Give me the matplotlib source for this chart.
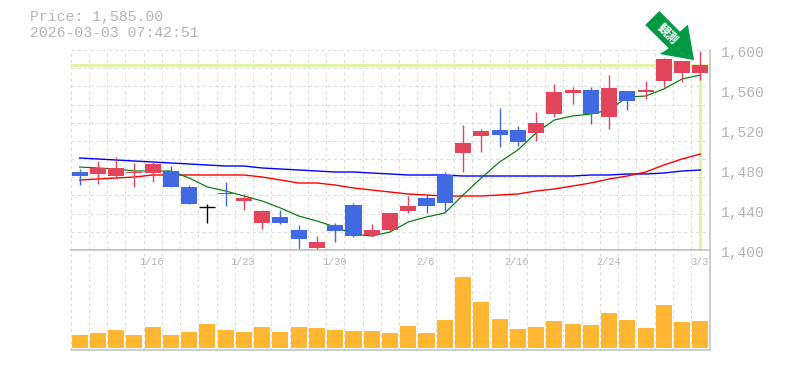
import numpy as np
import matplotlib
matplotlib.use('Agg')
import matplotlib.pyplot as plt
from matplotlib.patches import Polygon

# daily prices
opens = [1478, 1476, 1474, 1477, 1477, 1479, 1463, 1443, 1457, 1449, 1427, 1433, 1420, 1402, 1425, 1445, 1415, 1420,
         1439, 1452, 1475, 1497, 1514, 1520, 1520, 1517, 1536, 1557, 1560, 1533, 1559, 1558, 1569, 1577, 1577]
closes = [1474, 1482, 1482, 1478, 1486, 1463, 1446, 1443, 1456, 1452, 1439, 1427, 1411, 1408, 1419, 1414, 1420, 1437,
          1444, 1444, 1447, 1507, 1519, 1515, 1508, 1527, 1558, 1560, 1536, 1562, 1549, 1560, 1591, 1589, 1585]
highs = [1481, 1489, 1493, 1487, 1488, 1484, 1465, 1446, 1468, 1456, 1440, 1440, 1425, 1414, 1427, 1447, 1426, 1437,
         1454, 1455, 1478, 1525, 1521, 1542, 1524, 1538, 1566, 1563, 1563, 1575, 1559, 1569, 1592, 1589, 1599]
lows = [1465, 1466, 1473, 1463, 1468, 1463, 1446, 1427, 1444, 1440, 1421, 1426, 1401, 1400, 1408, 1413, 1413, 1419,
        1437, 1437, 1437, 1478, 1498, 1503, 1504, 1509, 1533, 1546, 1526, 1521, 1540, 1551, 1563, 1568, 1570]

# moving averages
ma_short = [1483, 1482, 1481, 1479, 1479, 1479, 1472, 1463, 1459, 1454, 1449, 1442, 1434, 1429, 1423, 1416, 1414, 1418,
            1428, 1433, 1437, 1455, 1472, 1488, 1500, 1517, 1530, 1534, 1536, 1540, 1553, 1554, 1561, 1571, 1575]
ma_mid = [1470, 1471, 1472, 1473, 1475, 1475, 1475, 1475, 1475, 1475, 1473, 1470, 1467, 1467, 1465, 1462, 1460, 1458,
          1456, 1455, 1454, 1454, 1454, 1455, 1456, 1459, 1461, 1464, 1467, 1471, 1474, 1478, 1485, 1491, 1496]
ma_long = [1492, 1491, 1490, 1489, 1488, 1487, 1486, 1485, 1484, 1484, 1482, 1481, 1480, 1479, 1478, 1478, 1477, 1476,
           1475, 1475, 1475, 1474, 1474, 1474, 1474, 1474, 1474, 1474, 1475, 1475, 1476, 1476, 1477, 1479, 1480]

volume = [13, 15, 18, 13, 21, 13, 16, 24, 18, 16, 21, 16, 21, 20, 18, 17, 17, 15,
          22, 15, 28, 71, 46, 29, 19, 21, 27, 24, 23, 35, 28, 20, 43, 26, 27]

date_idx = [4, 9, 14, 19, 24, 29, 34]
date_labels = ['1/16', '1/23', '1/30', '2/6', '2/16', '2/24', '3/3']
price_ticks = [1400, 1440, 1480, 1520, 1560, 1600]
price_labels = ['1,400', '1,440', '1,480', '1,520', '1,560', '1,600']
last_price = 1585

RED = '#e2445c'
BLUE = '#4169e1'
GRAY = '#b4b4b4'
GRID = '#dcdcdc'
LIME = '#e3f3a6'
W, H = 785, 370
FONT = 'Liberation Mono'


def px(x, y):
    return x / W, 1 - y / H


fig = plt.figure(figsize=(W / 100, H / 100), dpi=100)
ax = fig.add_axes([70.5 / W, 1 - 250 / H, 639 / W, 200 / H])
ax2 = fig.add_axes([70.5 / W, 1 - 350 / H, 639 / W, 100 / H])

x = np.arange(len(closes))
for a in (ax, ax2):
    a.set_xlim(-0.5, 34.5)
    a.set_xticks(x - 0.5)
    a.tick_params(length=0, labelbottom=False, labelleft=False)
    a.grid(True, axis='x', color=GRID, lw=0.75, ls=(0, (3, 3)))
    a.set_axisbelow(True)
    for s in ('top', 'left'):
        a.spines[s].set_visible(False)
    for s in ('right', 'bottom'):
        a.spines[s].set_color('#c0c0c0')
        a.spines[s].set_linewidth(1.1)

# price panel
ax.set_ylim(1400, 1600)
ax.set_yticks(np.linspace(1400, 1600, 12))
ax.grid(True, axis='y', color=GRID, lw=0.75, ls=(0, (3, 3)))

ax.axhline(last_price, color=LIME, lw=2.2, zorder=1.5)
ax.vlines(x[-1], 1400, last_price, color=LIME, lw=2.2, zorder=1.5)

ax.plot(x, ma_long, color='#0000ff', lw=1.0, zorder=2)
ax.plot(x, ma_mid, color='#ff0000', lw=1.0, zorder=2)
ax.plot(x, ma_short, color='#007a00', lw=0.85, zorder=2)

for i in x:
    o, c = opens[i], closes[i]
    col = RED if c > o else BLUE if c < o else 'black'
    ax.vlines(i, lows[i], highs[i], color=col, lw=1.0, zorder=3)
    if c == o:
        ax.hlines(o, i - 0.44, i + 0.44, color=col, lw=1.0, zorder=3)
    else:
        ax.bar(i, abs(c - o), bottom=min(o, c), width=0.88, color=col, lw=0, zorder=3)

for v, t in zip(price_ticks, price_labels):
    ax.annotate(t, xy=(1, v), xycoords=ax.get_yaxis_transform(), xytext=(11, -3), textcoords='offset pixels',
                ha='left', va='center', fontsize=10.5, family=FONT, color=GRAY, annotation_clip=False)

# volume panel
ax2.set_ylim(-2, 98)
ax2.set_yticks([])
ax2.spines['top'].set_visible(True)
ax2.spines['top'].set_color('#c0c0c0')
ax2.spines['top'].set_linewidth(1.1)
ax2.bar(x, volume, width=0.88, color='#ffb733', lw=0, zorder=3)
for i, t in zip(date_idx, date_labels):
    ax2.annotate(t, xy=(i, 1), xycoords=ax2.get_xaxis_transform(), xytext=(-1, -12), textcoords='offset pixels',
                 ha='center', va='center', fontsize=7.4, family=FONT, color=GRAY)

# header
fig.text(*px(30, 17), 'Price: 1,585.00', fontsize=10.7, family=FONT, color=GRAY, va='center')
fig.text(*px(30, 33), '2026-03-03 07:42:51', fontsize=10.7, family=FONT, color=GRAY, va='center')

# arrow badge
arrow = [(659.3, 10), (644.3, 25), (667.7, 48.3), (657.7, 54.3), (695, 61), (688.3, 23.3), (680, 30.7)]
fig.add_artist(Polygon([px(*p) for p in arrow], closed=True, transform=fig.transFigure, facecolor='#009944',
                       edgecolor='white', lw=1.0, zorder=5))
fig.text(*px(667, 34), '観測', rotation=-45, rotation_mode='anchor', ha='center', va='center', fontsize=8.5,
         color='white', family=['Noto Sans CJK JP', 'DejaVu Sans'], weight='bold', zorder=6)

fig.savefig('out.png', dpi=100)
